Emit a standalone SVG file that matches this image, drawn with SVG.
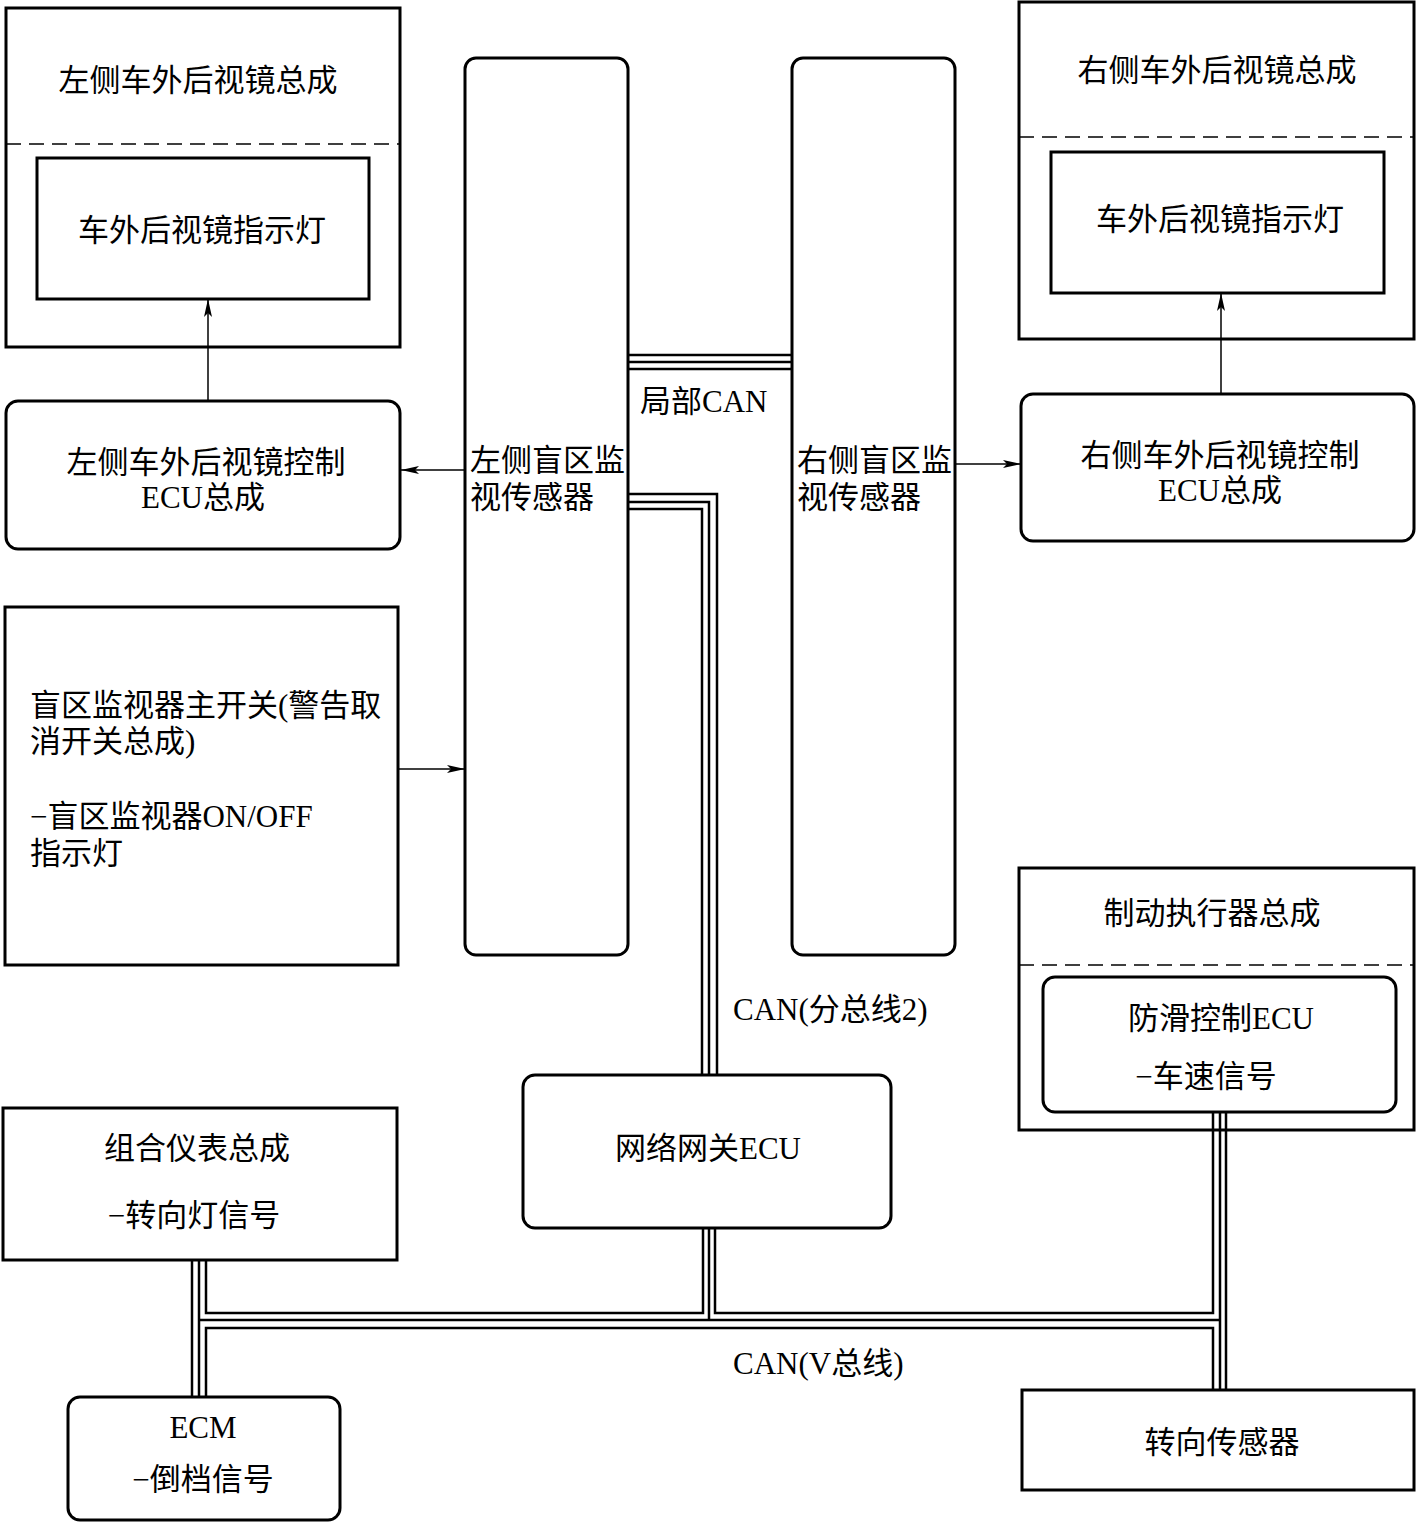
<svg xmlns="http://www.w3.org/2000/svg" width="1416" height="1536" viewBox="0 0 1416 1536">
<style>
.box{fill:none;stroke:#000;stroke-width:3}
.dash{fill:none;stroke:#000;stroke-width:1.5;stroke-dasharray:15 8}
.ln{fill:none;stroke:#000;stroke-width:2.5}
.ar{fill:none;stroke:#000;stroke-width:1.5}
text{font-family:"Liberation Serif","Noto Sans CJK SC",serif;font-size:31px;fill:#000}
.c{text-anchor:middle}
</style>
<defs>
<marker id="ah" markerUnits="userSpaceOnUse" markerWidth="20" markerHeight="10" refX="18" refY="5" orient="auto">
<path d="M0,1 L18,5 L0,9 L4,5 Z" fill="#000"/>
</marker>
</defs>
<rect width="1416" height="1536" fill="#fff"/>

<g id="left-mirror-assy">
<rect class="box" x="6" y="8" width="394" height="339"/>
<text class="c" x="198" y="91">左侧车外后视镜总成</text>
<line class="dash" x1="6" y1="144" x2="400" y2="144"/>
<rect class="box" x="37" y="158" width="332" height="141"/>
<text class="c" x="202" y="241">车外后视镜指示灯</text>
</g>

<g id="right-mirror-assy">
<rect class="box" x="1019" y="2" width="395" height="337"/>
<text class="c" x="1217" y="81">右侧车外后视镜总成</text>
<line class="dash" x1="1019" y1="137" x2="1414" y2="137"/>
<rect class="box" x="1051" y="152" width="333" height="141"/>
<text class="c" x="1220" y="230">车外后视镜指示灯</text>
</g>

<g id="left-mirror-ecu">
<rect class="box" x="6" y="401" width="394" height="148" rx="12"/>
<text class="c" x="206" y="473">左侧车外后视镜控制</text>
<text class="c" x="203" y="508">ECU总成</text>
</g>

<g id="right-mirror-ecu">
<rect class="box" x="1021" y="394" width="393" height="147" rx="12"/>
<text class="c" x="1220" y="466">右侧车外后视镜控制</text>
<text class="c" x="1220" y="501">ECU总成</text>
</g>

<g id="left-sensor">
<rect class="box" x="465" y="58" width="163" height="897" rx="11"/>
<text x="470" y="471">左侧盲区监</text>
<text x="470" y="508">视传感器</text>
</g>

<g id="right-sensor">
<rect class="box" x="792" y="58" width="163" height="897" rx="11"/>
<text x="797" y="471">右侧盲区监</text>
<text x="797" y="508">视传感器</text>
</g>

<g id="main-switch">
<rect class="box" x="5" y="607" width="393" height="358"/>
<text x="30" y="716">盲区监视器主开关(警告取</text>
<text x="30" y="752">消开关总成)</text>
<text x="30" y="827">−盲区监视器ON/OFF</text>
<text x="30" y="864">指示灯</text>
</g>

<g id="brake-actuator">
<rect class="box" x="1019" y="868" width="395" height="262"/>
<text class="c" x="1212" y="924">制动执行器总成</text>
<line class="dash" x1="1019" y1="965" x2="1414" y2="965"/>
<rect class="box" x="1043" y="977" width="353" height="135" rx="12"/>
<text class="c" x="1221" y="1029">防滑控制ECU</text>
<text class="c" x="1206" y="1087">−车速信号</text>
</g>

<g id="gateway">
<rect class="box" x="523" y="1075" width="368" height="153" rx="12"/>
<text class="c" x="708" y="1159">网络网关ECU</text>
</g>

<g id="combination-meter">
<rect class="box" x="3" y="1108" width="394" height="152"/>
<text class="c" x="197" y="1159">组合仪表总成</text>
<text class="c" x="194" y="1226">−转向灯信号</text>
</g>

<g id="ecm">
<rect class="box" x="68" y="1397" width="272" height="123" rx="12"/>
<text class="c" x="203" y="1438">ECM</text>
<text class="c" x="203" y="1490">−倒档信号</text>
</g>

<g id="steering-sensor">
<rect class="box" x="1022" y="1390" width="392" height="100"/>
<text class="c" x="1222" y="1453">转向传感器</text>
</g>

<g id="connectors">
<line class="ar" x1="208" y1="401" x2="208" y2="299" marker-end="url(#ah)"/>
<line class="ar" x1="1221" y1="394" x2="1221" y2="293" marker-end="url(#ah)"/>
<line class="ar" x1="465" y1="470" x2="401" y2="470" marker-end="url(#ah)"/>
<line class="ar" x1="956" y1="464" x2="1021" y2="464" marker-end="url(#ah)"/>
<line class="ar" x1="398" y1="769" x2="465" y2="769" marker-end="url(#ah)"/>

<line class="ln" x1="628" y1="355" x2="792" y2="355"/>
<line class="ln" x1="628" y1="362" x2="792" y2="362"/>
<line class="ln" x1="628" y1="369" x2="792" y2="369"/>

<polyline class="ln" points="628,494 717,494 717,1075"/>
<polyline class="ln" points="628,502 709,502 709,1075"/>
<polyline class="ln" points="628,509 702,509 702,1075"/>

<line class="ln" x1="192" y1="1260" x2="192" y2="1397"/>
<line class="ln" x1="199" y1="1260" x2="199" y2="1397"/>
<polyline class="ln" points="206,1260 206,1313 703,1313 703,1228"/>
<polyline class="ln" points="715,1228 715,1313 1213,1313 1213,1112"/>
<polyline class="ln" points="709,1228 709,1320"/>
<line class="ln" x1="199" y1="1320" x2="1220" y2="1320"/>
<polyline class="ln" points="206,1397 206,1328 1213,1328 1213,1390"/>
<line class="ln" x1="1220" y1="1112" x2="1220" y2="1390"/>
<line class="ln" x1="1226" y1="1112" x2="1226" y2="1390"/>

<text x="640" y="412">局部CAN</text>
<text x="733" y="1020">CAN(分总线2)</text>
<text x="733" y="1374">CAN(V总线)</text>
</g>
</svg>
